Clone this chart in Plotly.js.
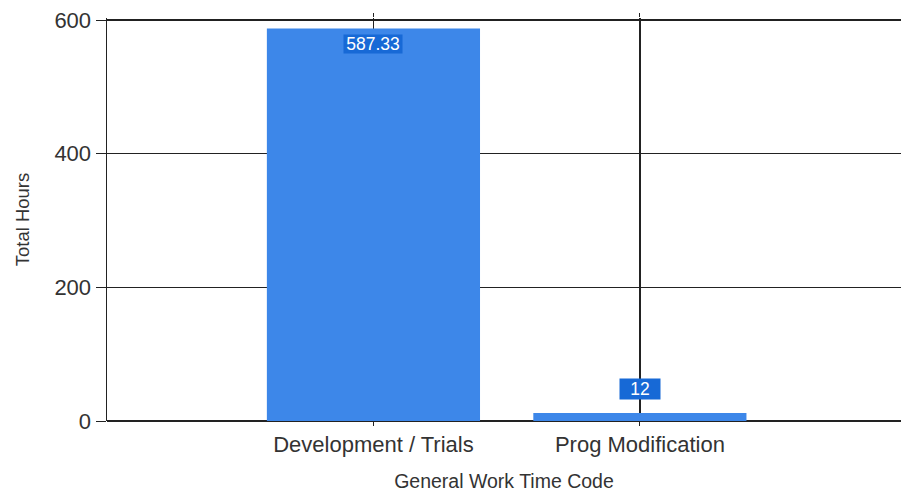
<!DOCTYPE html>
<html>
<head>
<meta charset="utf-8">
<script src="https://cdn.plot.ly/plotly-3.0.1.min.js"></script>
<style>html,body{margin:0;padding:0;background:#fff;}#chart{width:901px;height:494px;}</style>
</head>
<body>
<div id="chart"></div>
<script>
var categories = ["Development / Trials", "Prog Modification"];
var totalHours = [587.33, 12];
var valueLabels = ["587.33", "12"];
var yTicks = [0, 200, 400, 600];

var barColor = "#3d87e9";
var labelColor = "#1769d6";
var lineColor = "#222222";
var FONT = "Liberation Sans, Arial, sans-serif";

var trace = {
  type: "bar",
  x: categories,
  y: totalHours,
  width: 0.8,
  marker: {color: barColor, line: {width: 0}},
  hoverinfo: "none"
};

var annotations = categories.map(function (c, i) {
  var inside = totalHours[i] > 100;
  return {
    x: c, y: totalHours[i], xref: "x", yref: "y",
    text: valueLabels[i],
    showarrow: false,
    bgcolor: labelColor,
    font: {family: FONT, size: 17.5, color: "#ffffff"},
    borderpad: 0,
    width: inside ? 58 : 40,
    height: inside ? 18 : 20,
    yanchor: inside ? "top" : "bottom",
    yshift: inside ? -6 : 13
  };
});

var topValue = yTicks[yTicks.length - 1];

var layout = {
  width: 901, height: 494,
  margin: {l: 107, r: 0, t: 18, b: 73},
  paper_bgcolor: "#ffffff",
  plot_bgcolor: "#ffffff",
  showlegend: false,
  font: {family: FONT, color: "#333333"},
  xaxis: {
    type: "category",
    range: [-1, 1.98],
    showgrid: true, gridcolor: lineColor, gridwidth: 1.5,
    ticks: "outside", ticklen: 4, tickcolor: lineColor, mirror: "ticks",
    tickfont: {size: 22, color: "#333333"},
    showline: false,
    zeroline: false,
    title: {text: "General Work Time Code", font: {size: 19.5, color: "#333333"}, standoff: 17},
    fixedrange: true
  },
  yaxis: {
    range: [0, topValue + 3],
    tickvals: yTicks,
    ticktext: yTicks.map(String),
    showgrid: true, gridcolor: lineColor, gridwidth: 1.5,
    zeroline: true, zerolinecolor: lineColor, zerolinewidth: 1.5,
    showline: true, linecolor: lineColor, linewidth: 1.5,
    ticks: "outside", ticklen: 10, tickcolor: lineColor,
    tickfont: {size: 22, color: "#333333"},
    title: {text: "Total Hours", font: {size: 18.5, color: "#333333"}, standoff: 20},
    fixedrange: true
  },
  shapes: [{
    type: "line", xref: "paper", yref: "y",
    x0: 0, x1: 1, y0: topValue, y1: topValue,
    line: {color: lineColor, width: 1.5}, layer: "above"
  }],
  annotations: annotations
};

Plotly.newPlot("chart", [trace], layout, {displayModeBar: false, staticPlot: true});
</script>
</body>
</html>
